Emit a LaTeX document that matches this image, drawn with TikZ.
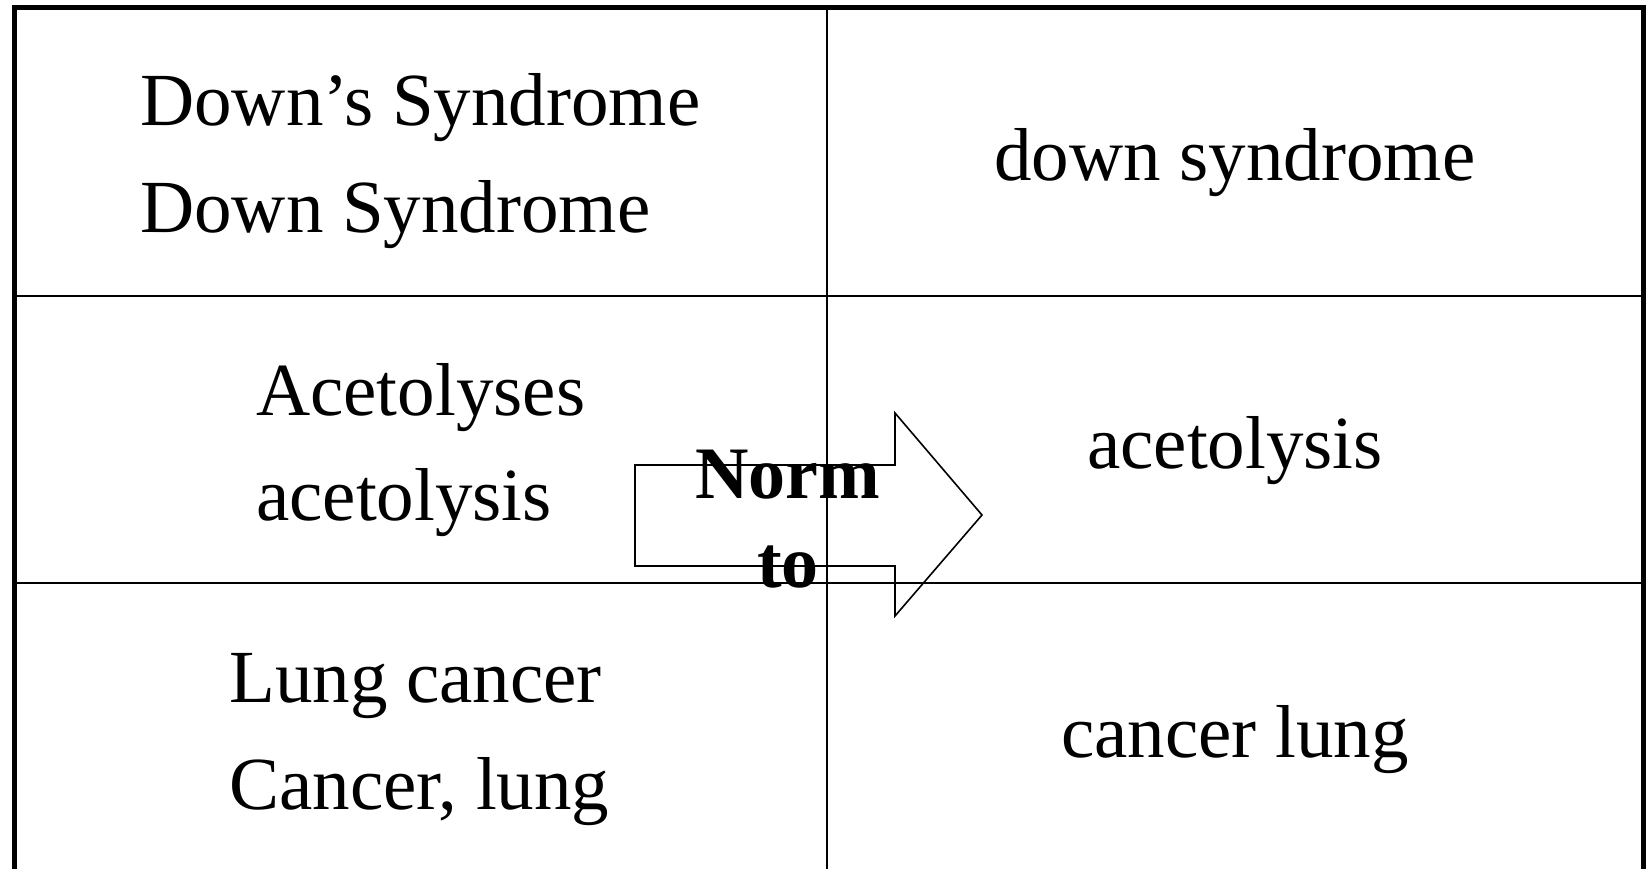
\documentclass[tikz,border=0pt]{standalone}
\usepackage{fontspec}
\setmainfont{Liberation Serif}
\usepackage{tikz}
\usetikzlibrary{calc}

\begin{document}
\begin{tikzpicture}[
  x=1pt, y=-1pt,
  frame/.style={draw=black, line width=5pt},
  rule/.style={draw=black, line width=2pt},
  cell/.style={inner sep=0pt, font=\fontsize{75}{105}\selectfont},
  lcell/.style={cell, anchor=base west},
  rcell/.style={cell, anchor=base},
  normlbl/.style={inner sep=0pt, anchor=base, font=\fontsize{74}{89}\selectfont\bfseries},
  bigarrow/.style={draw=black, line width=1.6pt, line join=miter},
]
\useasboundingbox (0,0) rectangle (1648,869);

% ---- the table: frame and rules ----
\coordinate (tl) at (14,8);
\coordinate (tr) at (1643,8);
\coordinate (bl) at (14,869);
\coordinate (br) at (1643,869);
\coordinate (mid) at (827,8);
\draw[rule] (mid) -- (mid |- bl);
\draw[rule] (14,296) -- (1643,296);
\draw[rule] (14,583) -- (1643,583);
\draw[frame] (bl) -- (tl) -- (tr) -- (br);

% ---- row 1 ----
\node[lcell] (downA) at (140,126) {Down’s Syndrome};
\node[lcell] (downB) at (140,233) {Down Syndrome};
\node[rcell] (downN) at (1235,181) {down syndrome};

% ---- row 2 ----
\node[lcell] (acetA) at (256,415) {Acetolyses};
\node[lcell] (acetB) at (256,520) {acetolysis};
\node[rcell] (acetN) at (1235,468) {acetolysis};

% ---- row 3 ----
\node[lcell] (lungA) at (229,702) {Lung cancer};
\node[lcell] (lungB) at (229,809) {Cancer, lung};
\node[rcell] (lungN) at (1235,757) {cancer lung};

% ---- the block arrow over the middle rule ----
\draw[bigarrow] (635,465) -- (895,465) -- (895,413) -- (982,515)
  -- (895,616) -- (895,566) -- (635,566) -- cycle;
\node[normlbl] (norm) at (788,498) {Norm};
\node[normlbl] (to)   at (788,587) {to};
\end{tikzpicture}
\end{document}
